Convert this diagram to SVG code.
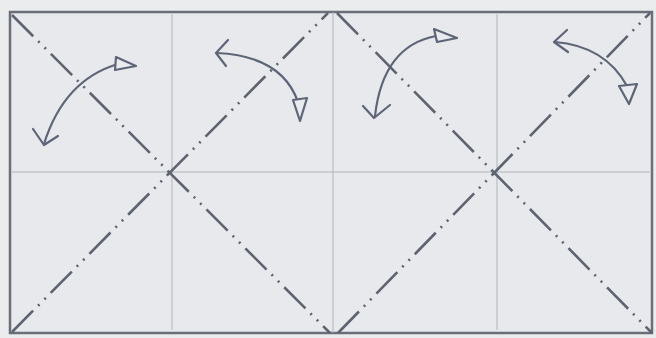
<svg xmlns="http://www.w3.org/2000/svg" width="656" height="338" viewBox="0 0 656 338">
<style>
.grid{stroke:#b0b4bb;stroke-width:1;fill:none}
.fold{stroke:#5e6370;stroke-width:2.6;fill:none;stroke-dasharray:30 7 2 7 2 7}
.arc{stroke:#5d6576;stroke-width:2.2;fill:none;stroke-linecap:round;stroke-linejoin:round}
.tri{stroke:#5d6576;stroke-width:2.2;fill:#eaebee;stroke-linejoin:round}
</style>
<rect x="0" y="0" width="656" height="338" fill="#ebecee"/>
<g id="sheet">
<rect x="10" y="12" width="642" height="321" fill="#e8e9ec" stroke="#6a6e78" stroke-width="2.5"/>
</g>
<g id="grid">
<line class="grid" x1="172" y1="14" x2="172" y2="330"/>
<line class="grid" x1="333" y1="12" x2="333" y2="333"/>
<line class="grid" x1="497" y1="14" x2="497" y2="330"/>
<line class="grid" x1="12" y1="172" x2="650" y2="172"/>
</g>
<g id="folds">
<line class="fold" x1="12" y1="15" x2="330" y2="333"/>
<line class="fold" x1="12" y1="332" x2="328" y2="13"/>
<line class="fold" x1="337" y1="13" x2="652" y2="333"/>
<line class="fold" x1="338" y1="333" x2="650" y2="13"/>
</g>
<g id="arrow1">
<path class="arc" d="M44 144 Q64 80 118 64"/>
<path class="arc" d="M33 129 L44 145 L58 136"/>
<polygon class="tri" points="116,57 136,66 115,70"/>
</g>
<g id="arrow2">
<path class="arc" d="M217 53 Q282 56 298 102"/>
<path class="arc" d="M228 40 L216 53 L226 66"/>
<polygon class="tri" points="293,100 307,98 300,121"/>
</g>
<g id="arrow3">
<path class="arc" d="M436 36 Q383 46 375 116"/>
<path class="arc" d="M363 106 L374 118 L390 105"/>
<polygon class="tri" points="434,29 457,38 437,42"/>
</g>
<g id="arrow4">
<path class="arc" d="M555 42 Q605 46 627 86"/>
<path class="arc" d="M567 30 L554 42 L568 52"/>
<polygon class="tri" points="619,86 637,84 629,104"/>
</g>
</svg>
